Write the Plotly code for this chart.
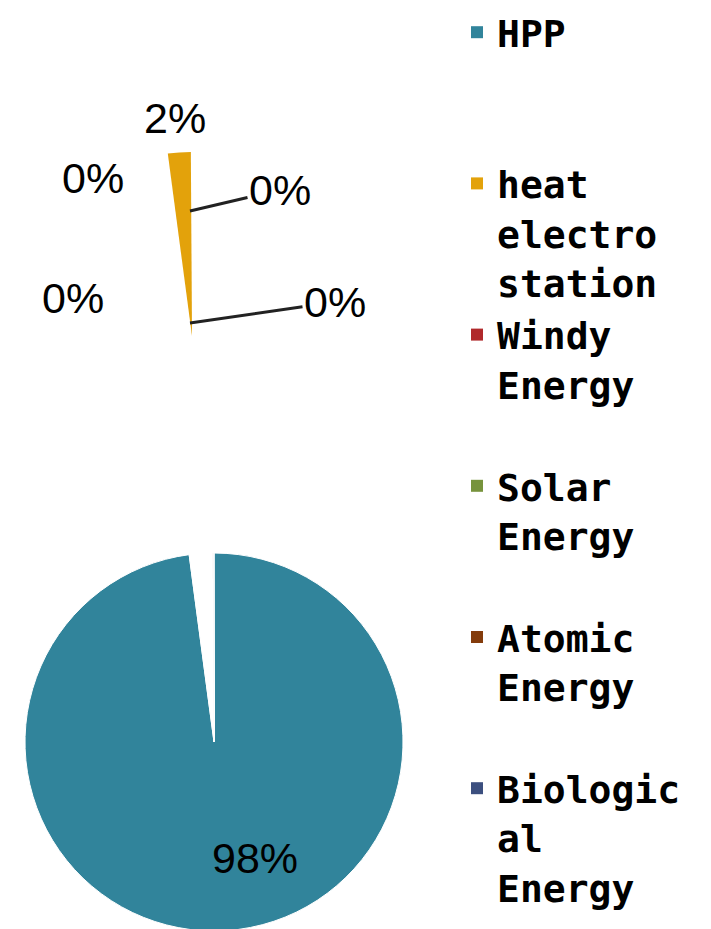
import plotly.graph_objects as go

# ---- data ----
labels = ["HPP", "heat electro station", "Windy Energy", "Solar Energy",
          "Atomic Energy", "Biological Energy"]
legend_labels = ["HPP<br> <br> ", "heat<br>electro<br>station", "Windy<br>Energy<br> ",
                 "Solar<br>Energy<br> ", "Atomic<br>Energy<br> ", "Biologic<br>al<br>Energy"]
values = [97.9, 2.0, 0.03, 0.03, 0.02, 0.02]
colors = ["#31849B", "#E3A20B", "#B0292B", "#77933C", "#843C0C", "#3C4F7F"]

W, H = 711, 929
OFF = 8  # the page body adds an 8px margin around the figure
total = sum(values)
pct = [f"{v / total:.0%}" for v in values]

def fx(x):  # screen px -> paper fraction
    return (x - OFF) / W

def fy(y):
    return (H - (y - OFF)) / H

label_font = dict(family="Liberation Sans Narrow, Liberation Sans, Arial", size=43, color="black")
clear = "rgba(0,0,0,0)"

fig = go.Figure()

# main pie (heat slice hidden, it is exploded far away)
fig.add_trace(go.Pie(
    labels=legend_labels, values=values, sort=False, direction="clockwise", rotation=0,
    marker=dict(colors=[c if i != 1 else clear for i, c in enumerate(colors)],
                line=dict(color="white", width=1)),
    domain=dict(x=[fx(25), fx(403)], y=[fy(931), fy(553)]),
    textinfo="none",
    showlegend=False, hoverinfo="label+percent",
))

# exploded heat slice
fig.add_trace(go.Pie(
    labels=legend_labels, values=values, sort=False, direction="clockwise", rotation=0,
    marker=dict(colors=[c if i == 1 else clear for i, c in enumerate(colors)],
                line=dict(color=clear, width=0)),
    domain=dict(x=[fx(8), fx(376)], y=[fy(520), fy(152)]),
    textinfo="none",
    showlegend=False, hoverinfo="label+percent",
))

# legend carrier
fig.add_trace(go.Pie(
    labels=legend_labels, values=values, sort=False, direction="clockwise",
    marker=dict(colors=colors),
    domain=dict(x=[0.999, 1.0], y=[0.0, 0.001]),
    textinfo="none", hoverinfo="skip", showlegend=True,
))

# slice labels
ann_spec = [  # (index, text x, text y, arrow tip x, arrow tip y)
    (0, 255, 858, None, None),
    (1, 175, 118, None, None),
    (2, 93, 178, None, None),
    (3, 280, 190, 190, 211),
    (4, 73, 298, None, None),
    (5, 335, 302, 190, 323),
]
for idx, tx, ty, ax_, ay_ in ann_spec:
    if ax_ is None:
        fig.add_annotation(x=fx(tx), y=fy(ty), xref="paper", yref="paper",
                           xanchor="center", yanchor="middle",
                           text=pct[idx], showarrow=False, font=label_font)
    else:
        fig.add_annotation(x=fx(ax_), y=fy(ay_), xref="paper", yref="paper",
                           text=pct[idx], showarrow=True, arrowhead=0, arrowwidth=3,
                           arrowcolor="#222", ax=tx - ax_, ay=ty - ay_, font=label_font)

fig.update_layout(
    width=W, height=H, margin=dict(l=0, r=0, t=0, b=0, autoexpand=False),
    paper_bgcolor="white", plot_bgcolor="white",
    legend=dict(x=fx(457), xanchor="left", y=1 + 7 / H, yanchor="top", valign="top",
                maxheight=1100,
                font=dict(family="DejaVu Sans Mono", size=38, color="black", weight="bold"),
                bgcolor=clear, traceorder="normal"),
)

fig.write_html("out.html")
